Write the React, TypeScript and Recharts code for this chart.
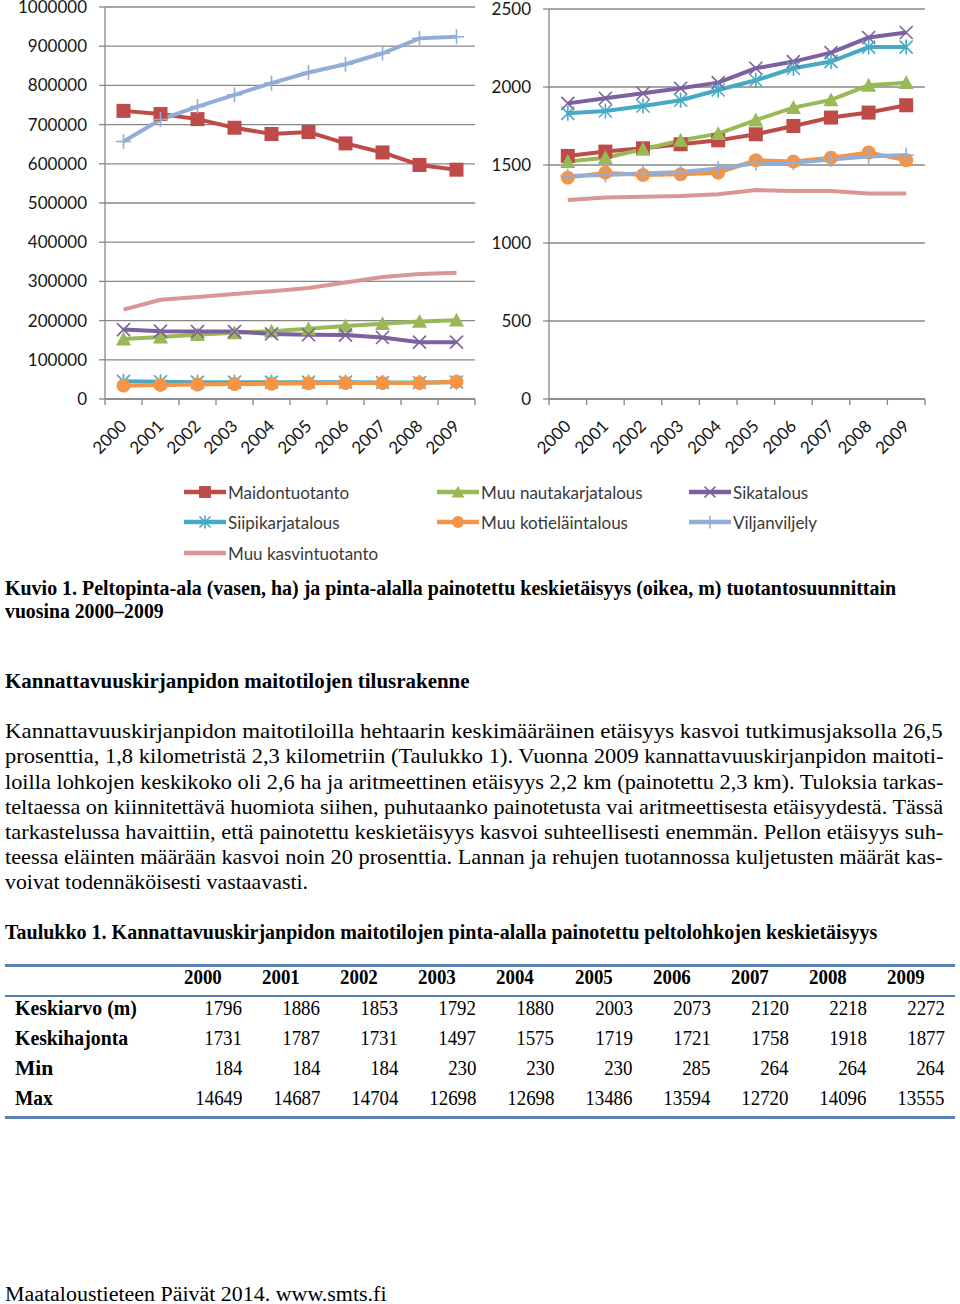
import { useLayoutEffect, useRef, useState } from "react";
import { LineChart, Line, XAxis, YAxis, CartesianGrid } from "recharts";

// vuodet
const years = ["2000", "2001", "2002", "2003", "2004", "2005", "2006", "2007", "2008", "2009"];

// vasen: peltopinta-ala, ha
const maidontuotantoHa = [735000, 727000, 714000, 692000, 676000, 681000, 652000, 629000, 597000, 585000];
const muuNautaHa = [153000, 158000, 164000, 169000, 173000, 179000, 186000, 192000, 198000, 201000];
const sikaHa = [177000, 173000, 172000, 172000, 166000, 164000, 163000, 157000, 145000, 145000];
const siipiHa = [45000, 44000, 43000, 43000, 43000, 43000, 43000, 42000, 42000, 43000];
const muuKotielainHa = [34000, 36000, 37000, 38000, 39000, 40000, 41000, 41000, 41000, 44000];
const viljaHa = [657000, 713000, 746000, 776000, 806000, 833000, 854000, 882000, 920000, 924000];
const muuKasviHa = [228000, 253000, 260000, 268000, 275000, 283000, 297000, 311000, 319000, 322000];

// oikea: painotettu keskietäisyys, m
const maidontuotantoM = [1558, 1586, 1607, 1633, 1658, 1697, 1750, 1804, 1836, 1883];
const muuNautaM = [1522, 1547, 1601, 1658, 1701, 1788, 1868, 1917, 2011, 2028];
const sikaM = [1895, 1928, 1960, 1992, 2028, 2120, 2163, 2220, 2317, 2349];
const siipiM = [1831, 1846, 1878, 1915, 1981, 2043, 2120, 2163, 2256, 2256];
const muuKotielainM = [1419, 1451, 1436, 1440, 1451, 1530, 1522, 1547, 1580, 1530];
const viljaM = [1430, 1436, 1445, 1455, 1477, 1511, 1515, 1536, 1554, 1564];
const muuKasviM = [1276, 1291, 1297, 1301, 1312, 1340, 1333, 1333, 1318, 1318];

const leftTicks = [0, 100000, 200000, 300000, 400000, 500000, 600000, 700000, 800000, 900000, 1000000];
const rightTicks = [0, 500, 1000, 1500, 2000, 2500];

// taulukko 1
const tableRows = ["Keskiarvo (m)", "Keskihajonta", "Min", "Max"];
const keskiarvo = [1796, 1886, 1853, 1792, 1880, 2003, 2073, 2120, 2218, 2272];
const keskihajonta = [1731, 1787, 1731, 1497, 1575, 1719, 1721, 1758, 1918, 1877];
const minimi = [184, 184, 184, 230, 230, 230, 285, 264, 264, 264];
const maksimi = [14649, 14687, 14704, 12698, 12698, 13486, 13594, 12720, 14096, 13555];

const paragraph = [
  "Kannattavuuskirjanpidon maitotiloilla hehtaarin keskimääräinen etäisyys kasvoi tutkimusjaksolla 26,5",
  "prosenttia, 1,8 kilometristä 2,3 kilometriin (Taulukko 1). Vuonna 2009 kannattavuuskirjanpidon maitoti-",
  "loilla lohkojen keskikoko oli 2,6 ha ja aritmeettinen etäisyys 2,2 km (painotettu 2,3 km). Tuloksia tarkas-",
  "teltaessa on kiinnitettävä huomiota siihen, puhutaanko painotetusta vai aritmeettisesta etäisyydestä. Tässä",
  "tarkastelussa havaittiin, että painotettu keskietäisyys kasvoi suhteellisesti enemmän. Pellon etäisyys suh-",
  "teessa eläinten määrään kasvoi noin 20 prosenttia. Lannan ja rehujen tuotannossa kuljetusten määrät kas-",
  "voivat todennäköisesti vastaavasti.",
];

const AXIS = "#878787";
const SANS = "Lato, 'Open Sans', sans-serif";
const SERIF = "'Liberation Serif', 'Times New Roman', serif";
const RULE = "#5a7fb3";

type MarkerType = "square" | "triangle" | "x" | "star" | "circle" | "plus" | "none";

const SERIES: { key: string; name: string; color: string; marker: MarkerType }[] = [
  { key: "maid", name: "Maidontuotanto", color: "#BE4B48", marker: "square" },
  { key: "nauta", name: "Muu nautakarjatalous", color: "#98B954", marker: "triangle" },
  { key: "sika", name: "Sikatalous", color: "#7D60A0", marker: "x" },
  { key: "siipi", name: "Siipikarjatalous", color: "#46AAC5", marker: "star" },
  { key: "kotiel", name: "Muu kotieläintalous", color: "#F59444", marker: "circle" },
  { key: "vilja", name: "Viljanviljely", color: "#93AED6", marker: "plus" },
  { key: "kasvi", name: "Muu kasvintuotanto", color: "#DA9694", marker: "none" },
];

const leftData = years.map((year, i) => ({
  year,
  maid: maidontuotantoHa[i],
  nauta: muuNautaHa[i],
  sika: sikaHa[i],
  siipi: siipiHa[i],
  kotiel: muuKotielainHa[i],
  vilja: viljaHa[i],
  kasvi: muuKasviHa[i],
}));

const rightData = years.map((year, i) => ({
  year,
  maid: maidontuotantoM[i],
  nauta: muuNautaM[i],
  sika: sikaM[i],
  siipi: siipiM[i],
  kotiel: muuKotielainM[i],
  vilja: viljaM[i],
  kasvi: muuKasviM[i],
}));

function Marker({ type, cx, cy, color, s = 1 }: { type: MarkerType; cx: number; cy: number; color: string; s?: number }) {
  if (type === "square") {
    const h = 7 * s;
    return <rect x={cx - h} y={cy - h} width={2 * h} height={2 * h} fill={color} />;
  }
  if (type === "triangle") {
    const h = 7.5 * s;
    return <polygon points={`${cx},${cy - h} ${cx + h},${cy + h * 0.85} ${cx - h},${cy + h * 0.85}`} fill={color} />;
  }
  if (type === "circle") return <circle cx={cx} cy={cy} r={7 * s} fill={color} />;
  if (type === "x" || type === "star") {
    const h = 6.5 * s;
    return (
      <g stroke={color} strokeWidth={1.6}>
        <line x1={cx - h} y1={cy - h} x2={cx + h} y2={cy + h} />
        <line x1={cx - h} y1={cy + h} x2={cx + h} y2={cy - h} />
        {type === "star" && <line x1={cx} y1={cy - h - 1} x2={cx} y2={cy + h + 1} />}
      </g>
    );
  }
  if (type === "plus") {
    const h = 7.5 * s;
    return (
      <g stroke={color} strokeWidth={1.6}>
        <line x1={cx} y1={cy - h} x2={cx} y2={cy + h} />
        <line x1={cx - h} y1={cy} x2={cx + h} y2={cy} />
      </g>
    );
  }
  return null;
}

const makeXTick = (step: number, count: number) => (props: any) => {
  const { x, y, payload, index } = props;
  const half = step / 2;
  const ly = y + 24;
  return (
    <g>
      <line x1={x - half} x2={x - half} y1={y} y2={y + 6} stroke={AXIS} strokeWidth={1.3} />
      {index === count - 1 && <line x1={x + half} x2={x + half} y1={y} y2={y + 6} stroke={AXIS} strokeWidth={1.3} />}
      <text
        x={x}
        y={ly}
        dy="0.35em"
        textAnchor="end"
        transform={`rotate(-45 ${x} ${ly})`}
        fontSize={17}
        fontFamily={SANS}
        fill="#161616"
      >
        {payload.value}
      </text>
    </g>
  );
};

function Panel({
  data,
  ticks,
  left,
  width,
  height,
  margin,
  yWidth,
}: {
  data: any[];
  ticks: number[];
  left: number;
  width: number;
  height: number;
  margin: { top: number; right: number; left: number; bottom: number };
  yWidth: number;
}) {
  const step = (width - margin.left - margin.right - yWidth) / years.length;
  return (
    <div style={{ position: "absolute", left, top: 0 }}>
      <LineChart width={width} height={height} data={data} margin={margin}>
        <CartesianGrid vertical={false} stroke={AXIS} strokeWidth={1.3} />
        <XAxis
          dataKey="year"
          height={71}
          interval={0}
          padding={{ left: step / 2, right: step / 2 }}
          tickSize={0}
          tickMargin={0}
          tickLine={false}
          axisLine={{ stroke: AXIS, strokeWidth: 1.3 }}
          tick={makeXTick(step, years.length)}
        />
        <YAxis
          width={yWidth}
          domain={[0, ticks[ticks.length - 1]]}
          ticks={ticks}
          interval={0}
          tickSize={6}
          tickMargin={12}
          axisLine={{ stroke: AXIS, strokeWidth: 1.3 }}
          tickLine={{ stroke: AXIS, strokeWidth: 1.3 }}
          tick={{ fontSize: 17, fontFamily: SANS, fill: "#161616" }}
        />
        {SERIES.map((s) => (
          <Line
            key={s.key}
            dataKey={s.key}
            type="linear"
            stroke={s.color}
            strokeWidth={4}
            isAnimationActive={false}
            activeDot={false}
            dot={(p: any) =>
              p.cx == null || s.marker === "none" ? (
                <g key={`${s.key}-${p.index}`} />
              ) : (
                <g key={`${s.key}-${p.index}`}>
                  <Marker type={s.marker} cx={p.cx} cy={p.cy} color={s.color} />
                </g>
              )
            }
          />
        ))}
      </LineChart>
    </div>
  );
}

function LegendItem({ x, y, s }: { x: number; y: number; s: (typeof SERIES)[number] }) {
  return (
    <div style={{ position: "absolute", left: x, top: y - 10, height: 20, display: "flex", alignItems: "center" }}>
      <svg width={44} height={20} style={{ display: "block" }}>
        <line x1={1} x2={43} y1={10} y2={10} stroke={s.color} strokeWidth={4.5} />
        <Marker type={s.marker} cx={22} cy={10} color={s.color} s={0.85} />
      </svg>
      <span style={{ fontFamily: SANS, fontSize: 17, color: "#3a3a3a", marginLeft: 1, whiteSpace: "nowrap" }}>{s.name}</span>
    </div>
  );
}

function FitText({
  x,
  y,
  w,
  size = 21,
  bold = false,
  children,
}: {
  x: number;
  y: number;
  w: number;
  size?: number;
  bold?: boolean;
  children: string;
}) {
  const ref = useRef<HTMLSpanElement>(null);
  const [k, setK] = useState(1);
  useLayoutEffect(() => {
    if (ref.current) {
      const nw = ref.current.offsetWidth;
      if (nw > 0) setK(w / nw);
    }
  }, [w, children]);
  return (
    <span
      ref={ref}
      style={{
        position: "absolute",
        left: x,
        top: y - size * 0.607,
        whiteSpace: "nowrap",
        fontFamily: SERIF,
        fontSize: size,
        lineHeight: `${size * 1.2}px`,
        fontWeight: bold ? 700 : 400,
        color: "#000",
        transform: `scaleX(${k})`,
        transformOrigin: "0 50%",
      }}
    >
      {children}
    </span>
  );
}

function Cell({ x, y, text, bold = false, align }: { x: number; y: number; text: string; bold?: boolean; align: "right" | "center" }) {
  const size = 21;
  const base: any = {
    position: "absolute",
    top: y - size * 0.607,
    whiteSpace: "nowrap",
    fontFamily: SERIF,
    fontSize: size,
    lineHeight: `${size * 1.2}px`,
    fontWeight: bold ? 700 : 400,
    color: "#000",
  };
  if (align === "right") {
    return (
      <span style={{ ...base, right: 960 - x, transform: "scaleX(0.9)", transformOrigin: "100% 50%" }}>{text}</span>
    );
  }
  return (
    <span style={{ ...base, left: x, transform: "translateX(-50%) scaleX(0.9)", transformOrigin: "0 50%" }}>{text}</span>
  );
}

export default function App() {
  const tableValues = [keskiarvo, keskihajonta, minimi, maksimi];
  const labelWidths = [122, 113, 38, 38];
  const colW = 78.1;
  return (
    <div style={{ position: "absolute", left: 0, top: 0, width: 960, height: 1304, background: "#fff", overflow: "hidden" }}>
      <style>{`.recharts-surface { overflow: visible; }`}</style>
      <Panel
        data={leftData}
        ticks={leftTicks}
        left={0}
        width={480}
        height={470}
        margin={{ top: 7, right: 5, left: 0, bottom: 0 }}
        yWidth={105}
      />
      <Panel
        data={rightData}
        ticks={rightTicks}
        left={480}
        width={480}
        height={470}
        margin={{ top: 9, right: 35, left: 0, bottom: 0 }}
        yWidth={69}
      />

      <LegendItem x={183} y={492} s={SERIES[0]} />
      <LegendItem x={436} y={492} s={SERIES[1]} />
      <LegendItem x={688} y={492} s={SERIES[2]} />
      <LegendItem x={183} y={522} s={SERIES[3]} />
      <LegendItem x={436} y={522} s={SERIES[4]} />
      <LegendItem x={688} y={522} s={SERIES[5]} />
      <LegendItem x={183} y={553} s={SERIES[6]} />

      <FitText x={5} y={589} w={891} bold>
        Kuvio 1. Peltopinta-ala (vasen, ha) ja pinta-alalla painotettu keskietäisyys (oikea, m) tuotantosuunnittain
      </FitText>
      <FitText x={5} y={612} w={159} bold>
        vuosina 2000–2009
      </FitText>
      <FitText x={5} y={682} w={465} bold>
        Kannattavuuskirjanpidon maitotilojen tilusrakenne
      </FitText>
      {paragraph.map((line, i) => (
        <FitText key={i} x={5} y={732 + i * 25.17} w={i === paragraph.length - 1 ? 303 : 938}>
          {line}
        </FitText>
      ))}
      <FitText x={5} y={933} w={872} bold>
        Taulukko 1. Kannattavuuskirjanpidon maitotilojen pinta-alalla painotettu peltolohkojen keskietäisyys
      </FitText>

      <div style={{ position: "absolute", left: 5, top: 964, width: 950, height: 3, background: RULE }} />
      <div style={{ position: "absolute", left: 5, top: 995, width: 950, height: 2, background: RULE }} />
      <div style={{ position: "absolute", left: 5, top: 1116, width: 950, height: 3, background: RULE }} />

      {years.map((yr, j) => (
        <Cell key={yr} x={205 + j * colW} y={978} text={yr} bold align="center" />
      ))}
      {tableRows.map((label, r) => (
        <div key={label}>
          <FitText x={15} y={1009 + r * 30} w={labelWidths[r]} bold>
            {label}
          </FitText>
          {tableValues[r].map((v, j) => (
            <Cell key={j} x={242 + j * colW} y={1009 + r * 30} text={String(v)} align="right" />
          ))}
        </div>
      ))}

      <FitText x={5} y={1294} w={382} size={20}>
        Maataloustieteen Päivät 2014. www.smts.fi
      </FitText>
    </div>
  );
}
